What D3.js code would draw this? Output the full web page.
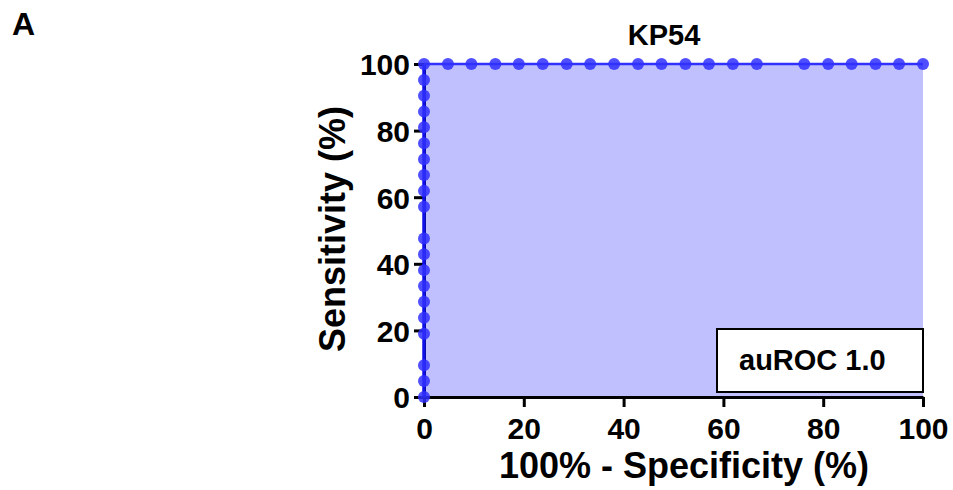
<!DOCTYPE html>
<html>
<head>
<meta charset="UTF-8">
<title>KP54 ROC</title>
<script src="https://cdn.jsdelivr.net/npm/d3@7/dist/d3.min.js"></script>
<style>
  body { margin: 0; background: #fff; }
  svg { font-family: Arial, "Liberation Sans", sans-serif; font-weight: bold; }
</style>
</head>
<body>
<svg id="chart" width="953" height="490"></svg>
<script>
// ROC points (percent)
var leftSens = [0, 4.8, 9.5, 19.0, 23.8, 28.6, 33.3, 38.1, 42.9, 47.6, 57.1, 61.9, 66.7, 71.4, 76.2, 81.0, 85.7, 90.5, 95.2, 100]
var topFpr = [0, 4.8, 9.5, 14.3, 19.0, 23.8, 28.6, 33.3, 38.1, 42.9, 47.6, 52.4, 57.1, 61.9, 66.7, 76.2, 81.0, 85.7, 90.5, 95.2, 100]
var curveX = [0, 0, 100]
var curveY = [0, 100, 100]
var xTicks = [0, 20, 40, 60, 80, 100]
var yTicks = [0, 20, 40, 60, 80, 100]
var title = "KP54"
var legendText = "auROC 1.0"

var svg = d3.select("#chart")
var x = d3.scaleLinear().domain([0, 100]).range([424, 923])
var y = d3.scaleLinear().domain([0, 100]).range([397, 64])

// panel letter
svg.append("text").attr("x", 12).attr("y", 35).style("font-size", "32px").text("A")

// shaded area under the curve
var curve = curveX.map(function(d, i) { return [d, curveY[i]] })
svg.append("path")
  .datum(curve)
  .attr("fill", "#c0c0ff")
  .attr("d", d3.area().x(function(d) { return x(d[0]) }).y0(y(0)).y1(function(d) { return y(d[1]) }))

// axes
var xAxis = svg.append("g").attr("transform", "translate(0," + y(0) + ")")
  .call(d3.axisBottom(x).tickValues(xTicks).tickSize(10).tickPadding(10).tickSizeOuter(0))
var yAxis = svg.append("g").attr("transform", "translate(" + x(0) + ",0)")
  .call(d3.axisLeft(y).tickValues(yTicks).tickSize(10).tickPadding(4).tickSizeOuter(0))
svg.selectAll(".domain, .tick line").attr("stroke", "#000").attr("stroke-width", 3)
svg.selectAll(".tick text").attr("fill", "#000").style("font-size", "30px").attr("font-family", null).attr("font-weight", null)
xAxis.selectAll(".tick text").attr("dy", "0.72em")
yAxis.selectAll(".tick text").attr("dy", "0.36em")

// ROC curve line
var line = d3.line().x(function(d) { return x(d[0]) }).y(function(d) { return y(d[1]) })
svg.append("path")
  .datum(curve.slice(0, 2))
  .attr("fill", "none")
  .attr("stroke", "#1010e8")
  .attr("stroke-width", 3.5)
  .attr("d", line)
svg.append("path")
  .datum(curve.slice(1))
  .attr("fill", "none")
  .attr("stroke", "#3030ff")
  .attr("stroke-width", 2.5)
  .attr("d", line)

// points
var pts = leftSens.map(function(s) { return [0, s] }).concat(topFpr.slice(1).map(function(f) { return [f, 100] }))
svg.append("g").selectAll("circle").data(pts).enter().append("circle")
  .attr("cx", function(d) { return x(d[0]) })
  .attr("cy", function(d) { return y(d[1]) })
  .attr("r", 6)
  .attr("fill", "#3030ff")
  .attr("fill-opacity", 0.85)

// legend box
svg.append("rect").attr("x", 717).attr("y", 329).attr("width", 206).attr("height", 63)
  .attr("fill", "#fff").attr("stroke", "#000").attr("stroke-width", 2)
svg.append("text").attr("x", 739).attr("y", 370).style("font-size", "29px").text(legendText)

// titles
svg.append("text").attr("x", 664).attr("y", 45).attr("text-anchor", "middle").style("font-size", "29px").text(title)
svg.append("text").attr("x", 684).attr("y", 478).attr("text-anchor", "middle").style("font-size", "36px")
  .text("100% - Specificity (%)")
svg.append("text").attr("transform", "translate(345,229) rotate(-90)").attr("text-anchor", "middle").style("font-size", "36px")
  .text("Sensitivity (%)")
</script>
</body>
</html>
